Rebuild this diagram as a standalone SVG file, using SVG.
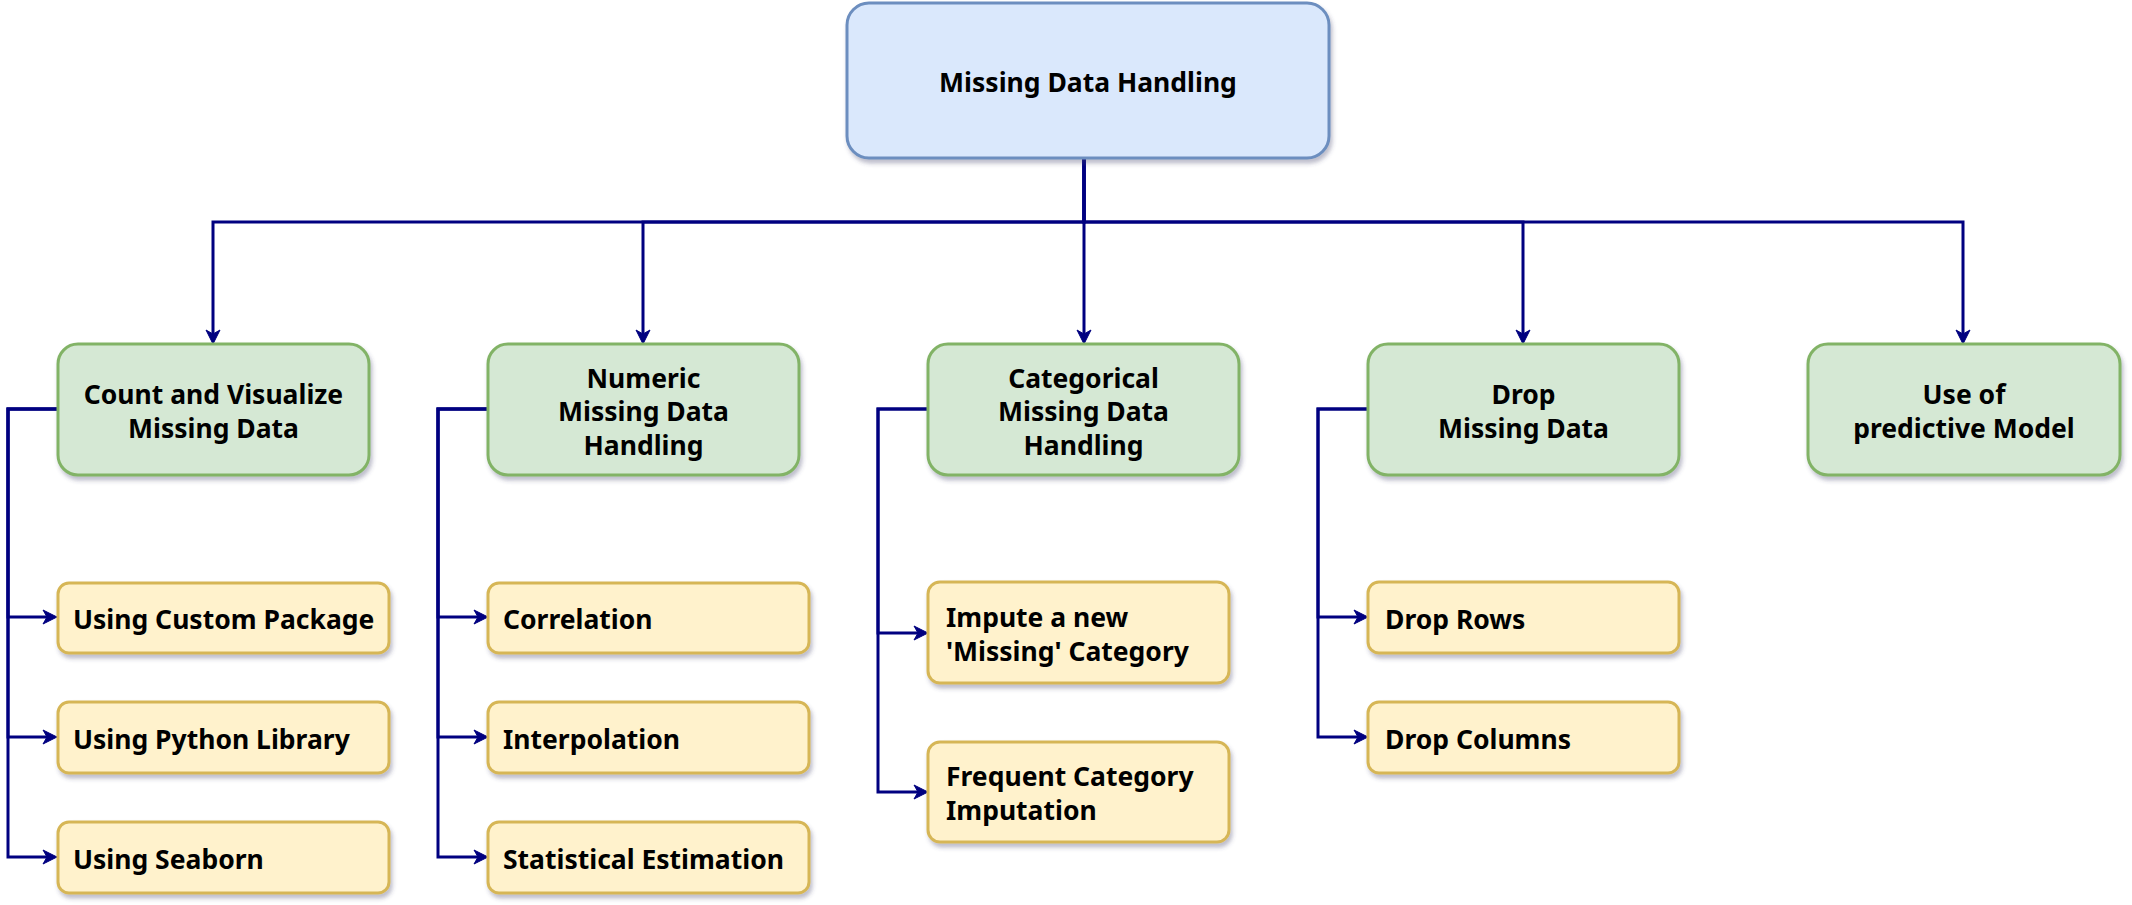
<svg xmlns="http://www.w3.org/2000/svg" width="2132" height="905" viewBox="0 0 2132 905">
  <style>
    .root { fill: #dae8fc; stroke: #6c8ebf; stroke-width: 3; }
    .cat { fill: #d5e8d4; stroke: #82b366; stroke-width: 3; }
    .leaf { fill: #fff2cc; stroke: #d6b656; stroke-width: 3; }
    .box { filter: url(#shadow); }
    text { font-family: "Noto Sans", "DejaVu Sans", sans-serif; font-weight: bold; font-size: 26.5px; fill: #000000; }
    .c { text-anchor: middle; }
    .l { text-anchor: start; }
    .edge { fill: none; stroke: #000080; stroke-width: 3; marker-end: url(#arrow); }
  </style>
  <defs>
    <filter id="shadow" x="-10%" y="-10%" width="120%" height="130%">
      <feDropShadow dx="2" dy="4" stdDeviation="2" flood-color="#44446a" flood-opacity="0.35"/>
    </filter>
    <marker id="arrow" markerUnits="userSpaceOnUse" viewBox="-5 -8 16 16" refX="0" refY="0" markerWidth="16" markerHeight="16" orient="auto">
      <path d="M10,0 L-4,-7 L0,0 L-4,7 Z" fill="#000080" stroke="#000080" stroke-width="1" stroke-linejoin="miter"/>
    </marker>
  </defs>
  <rect width="2132" height="905" fill="#ffffff"/>

  <g id="connectors">
    <path class="edge" d="M1084,158 V222 H213 V334"/>
    <path class="edge" d="M1084,158 V222 H643 V334"/>
    <path class="edge" d="M1084,158 V334"/>
    <path class="edge" d="M1084,158 V222 H1523 V334"/>
    <path class="edge" d="M1084,158 V222 H1963 V334"/>

    <path class="edge" d="M58,409 H8 V617 H47"/>
    <path class="edge" d="M58,409 H8 V737 H47"/>
    <path class="edge" d="M58,409 H8 V857 H47"/>

    <path class="edge" d="M488,409 H438 V617 H478"/>
    <path class="edge" d="M488,409 H438 V737 H478"/>
    <path class="edge" d="M488,409 H438 V857 H478"/>

    <path class="edge" d="M928,409 H878 V633 H918"/>
    <path class="edge" d="M928,409 H878 V792 H918"/>

    <path class="edge" d="M1368,409 H1318 V617 H1358"/>
    <path class="edge" d="M1368,409 H1318 V737 H1358"/>
  </g>

  <g id="root">
    <rect class="root box" x="847" y="3" width="482" height="155" rx="22"/>
    <text class="c" x="1088" y="92">Missing Data Handling</text>
  </g>

  <g id="count-visualize">
    <rect class="cat box" x="58" y="344" width="311" height="131" rx="20"/>
    <text class="c" x="213.5" y="404">Count and Visualize</text>
    <text class="c" x="213.5" y="438">Missing Data</text>
  </g>
  <g id="numeric">
    <rect class="cat box" x="488" y="344" width="311" height="131" rx="20"/>
    <text class="c" x="643.5" y="387.5">Numeric</text>
    <text class="c" x="643.5" y="421">Missing Data</text>
    <text class="c" x="643.5" y="454.5">Handling</text>
  </g>
  <g id="categorical">
    <rect class="cat box" x="928" y="344" width="311" height="131" rx="20"/>
    <text class="c" x="1083.5" y="387.5">Categorical</text>
    <text class="c" x="1083.5" y="421">Missing Data</text>
    <text class="c" x="1083.5" y="454.5">Handling</text>
  </g>
  <g id="drop">
    <rect class="cat box" x="1368" y="344" width="311" height="131" rx="20"/>
    <text class="c" x="1523.5" y="404">Drop</text>
    <text class="c" x="1523.5" y="438">Missing Data</text>
  </g>
  <g id="predictive">
    <rect class="cat box" x="1808" y="344" width="312" height="131" rx="20"/>
    <text class="c" x="1964" y="404">Use of</text>
    <text class="c" x="1964" y="438">predictive Model</text>
  </g>

  <g id="custom-package">
    <rect class="leaf box" x="58" y="583" width="331" height="70" rx="11"/>
    <text class="l" x="73" y="629">Using Custom Package</text>
  </g>
  <g id="python-library">
    <rect class="leaf box" x="58" y="702" width="331" height="71" rx="11"/>
    <text class="l" x="73" y="748.5">Using Python Library</text>
  </g>
  <g id="seaborn">
    <rect class="leaf box" x="58" y="822" width="331" height="71" rx="11"/>
    <text class="l" x="73" y="868.5">Using Seaborn</text>
  </g>

  <g id="correlation">
    <rect class="leaf box" x="488" y="583" width="321" height="70" rx="11"/>
    <text class="l" x="503" y="629">Correlation</text>
  </g>
  <g id="interpolation">
    <rect class="leaf box" x="488" y="702" width="321" height="71" rx="11"/>
    <text class="l" x="503" y="748.5">Interpolation</text>
  </g>
  <g id="statistical">
    <rect class="leaf box" x="488" y="822" width="321" height="71" rx="11"/>
    <text class="l" x="503" y="868.5">Statistical Estimation</text>
  </g>

  <g id="impute-missing">
    <rect class="leaf box" x="928" y="582" width="301" height="101" rx="12"/>
    <text class="l" x="946" y="626.5">Impute a new</text>
    <text class="l" x="946" y="660.5">'Missing' Category</text>
  </g>
  <g id="frequent">
    <rect class="leaf box" x="928" y="742" width="301" height="100" rx="12"/>
    <text class="l" x="946" y="786">Frequent Category</text>
    <text class="l" x="946" y="820">Imputation</text>
  </g>

  <g id="drop-rows">
    <rect class="leaf box" x="1368" y="582" width="311" height="71" rx="11"/>
    <text class="l" x="1385" y="628.5">Drop Rows</text>
  </g>
  <g id="drop-columns">
    <rect class="leaf box" x="1368" y="702" width="311" height="71" rx="11"/>
    <text class="l" x="1385" y="748.5">Drop Columns</text>
  </g>
</svg>
